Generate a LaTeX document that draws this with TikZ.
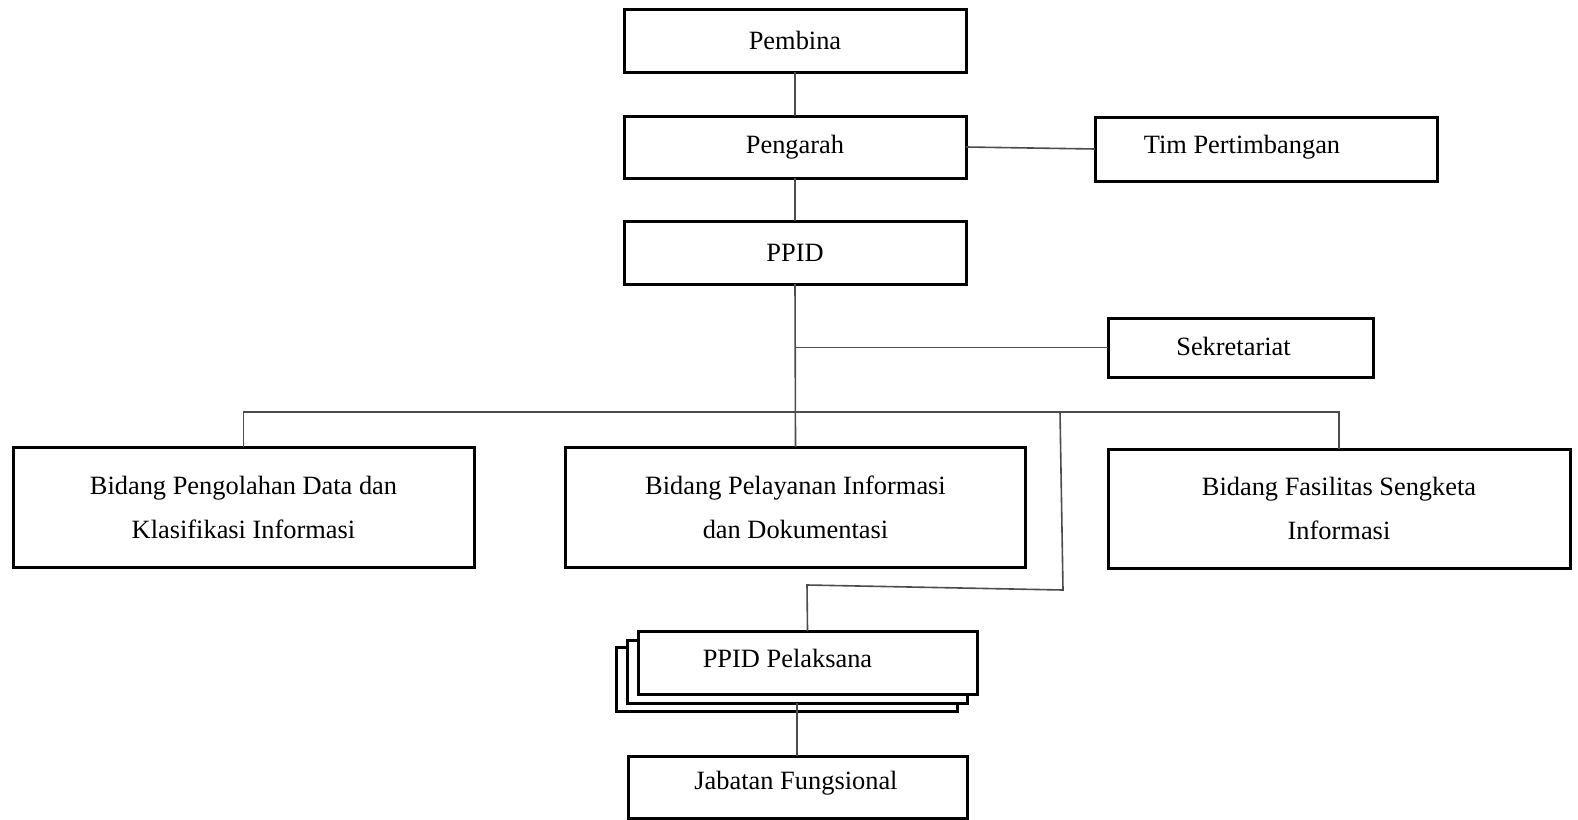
\documentclass[tikz,border=0pt]{standalone}
\usepackage{fontspec}
\setmainfont{Liberation Serif}
\begin{document}
\begin{tikzpicture}[x=0.5pt,y=-0.5pt,
  box/.style={draw=black,fill=white,line width=1.5pt,inner sep=0pt,outer sep=0pt,
    font=\fontsize{13.2pt}{22pt}\selectfont,align=center},
  conn/.style={draw=black!70,line width=0.8pt},
  lbl/.style={font=\fontsize{13.2pt}{22pt}\selectfont,inner sep=0pt}]
\useasboundingbox (0,0) rectangle (1578,819);
% boxes
\node[box,minimum width=171pt,minimum height=31.5pt] (pembina) at (795,40.5) {Pembina};
\node[box,minimum width=171pt,minimum height=31pt] (pengarah) at (795,147) {Pengarah};
\node[box,minimum width=171pt,minimum height=32pt] (tim) at (1266,149) {};
\node[lbl] (timt) at (1242,147) {Tim Pertimbangan};
\node[box,minimum width=171pt,minimum height=31.5pt] (ppid) at (795,252.5) {PPID};
\node[box,minimum width=132.5pt,minimum height=29.5pt] (sek) at (1240.5,347.5) {};
\node[lbl] (sekt) at (1233.5,346) {Sekretariat};
\node[box,minimum width=230.5pt,minimum height=60pt] (bidL) at (243.5,507) {Bidang Pengolahan Data dan\\Klasifikasi Informasi};
\node[box,minimum width=230pt,minimum height=60pt] (bidM) at (795.5,507) {Bidang Pelayanan Informasi\\dan Dokumentasi};
\node[box,minimum width=231pt,minimum height=59.5pt] (bidR) at (1339,508.5) {Bidang Fasilitas Sengketa\\Informasi};
\node[box,minimum width=170.5pt,minimum height=32pt] (pelB) at (786.5,679) {};
\node[box,minimum width=170pt,minimum height=31.5pt] (pelM) at (797,671.5) {};
\node[box,minimum width=169.5pt,minimum height=31.5pt] (pelF) at (807.5,662.5) {};
\node[lbl] (pelt) at (787.5,658) {PPID Pelaksana};
\node[box,minimum width=169.5pt,minimum height=31pt] (jab) at (797.5,787) {};
\node[lbl] (jabt) at (796,783) {Jabatan Fungsional};
% connectors
\coordinate (bus) at (795,412);
\coordinate (t1) at (1060,412);
\coordinate (t2) at (1063,590);
\coordinate (t3) at (807,585);
\draw[conn] (pembina.south) -- (pengarah.north);
\draw[conn] (pengarah.south) -- (ppid.north);
\draw[conn] (pengarah.east) -- (tim.west);
\draw[conn] (ppid.south) -- (bidM.north);
\draw[conn] (ppid.south |- sek.west) -- (sek.west);
\draw[conn] (bidL.north) |- (bus) -| (bidR.north);
\draw[conn] (t1) -- (t2) -- (t3) -- (pelF.north);
\draw[conn] (pelM.south) -- (pelM.south |- jab.north);
\end{tikzpicture}
\end{document}
